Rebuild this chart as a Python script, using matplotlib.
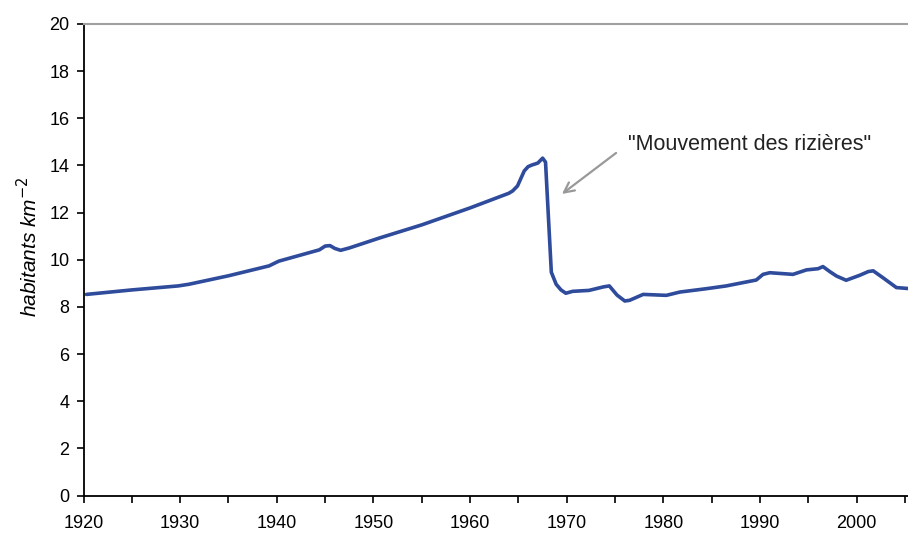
import matplotlib
matplotlib.use("Agg")
import matplotlib.pyplot as plt

plt.rcParams['font.family'] = ['Liberation Sans', 'DejaVu Sans']

years = [1920.3, 1925, 1929.8, 1930.9, 1935, 1939.2, 1940.2, 1944.4, 1945.0, 1945.5,
         1946.0, 1946.6, 1947.5, 1950.6, 1955, 1960, 1964.0, 1964.4, 1964.9, 1965.6, 1966.0,
         1966.4, 1967.0, 1967.5, 1967.8, 1968.1, 1968.4, 1968.9, 1969.4, 1969.9, 1970.6,
         1972.3, 1973.8, 1974.4, 1975.2, 1976.0, 1976.5, 1977.9, 1980.3, 1981.7,
         1984.4, 1986.5, 1988.6, 1989.6, 1990.3, 1991.0, 1993.4, 1994.8, 1996.0,
         1996.5, 1997.2, 1997.9, 1998.9, 2000.3, 2001.2, 2001.7, 2002.7, 2004.1, 2005.3]
density = [8.53, 8.72, 8.89, 8.96, 9.32, 9.74, 9.94, 10.42, 10.58, 10.6,
           10.48, 10.4, 10.5, 10.92, 11.48, 12.2, 12.82, 12.92, 13.13, 13.77, 13.95,
           14.02, 14.1, 14.31, 14.14, 11.8, 9.47, 8.96, 8.72, 8.58, 8.66,
           8.70, 8.85, 8.89, 8.5, 8.25, 8.28, 8.53, 8.49, 8.63,
           8.77, 8.89, 9.06, 9.14, 9.38, 9.45, 9.38, 9.57, 9.62,
           9.71, 9.5, 9.31, 9.13, 9.34, 9.5, 9.53, 9.24, 8.82, 8.78]

xticks = [1920, 1930, 1940, 1950, 1960, 1970, 1980, 1990, 2000]
yticks = [0, 2, 4, 6, 8, 10, 12, 14, 16, 18, 20]

fig = plt.figure(figsize=(9.08, 5.33), dpi=100)
ax = fig.add_axes([83.5/908, 1 - 495.5/533, 1 - 83.5/908, (495.5 - 24)/533])
ax.plot(years, density, color='#2F4B9B', lw=2.6, solid_joinstyle='round', solid_capstyle='round')

ax.set_xlim(1920, 2005.3)
ax.set_ylim(0, 20)
ax.set_xticks(xticks)
ax.set_xticks(list(range(1925, 2006, 10)), minor=True)
ax.set_yticks(yticks)
ax.tick_params(axis='both', which='both', direction='out', length=5, width=1.2, labelsize=13, colors='black')
ax.tick_params(axis='x', pad=9)
ax.tick_params(axis='y', pad=5)

ax.spines['left'].set_linewidth(1.3)
ax.spines['bottom'].set_linewidth(1.3)
ax.spines['top'].set_color('#A0A0A0')
ax.spines['top'].set_linewidth(1.5)
ax.spines['right'].set_visible(False)

ax.set_ylabel('habitants km$^{-2}$', fontsize=15, style='italic')
ax.yaxis.set_label_coords(-0.051, 0.527)

ax.text(1988.9, 14.87, '"Mouvement des rizières"', fontsize=15.5, color='#222222',
        ha='center', va='center')
ax.annotate('', xy=(1969.5, 12.79), xytext=(1975.1, 14.53),
            arrowprops=dict(arrowstyle='->', color='#999999', lw=1.6,
                            shrinkA=0, shrinkB=0, mutation_scale=18))

fig.savefig('out.png', dpi=100)
